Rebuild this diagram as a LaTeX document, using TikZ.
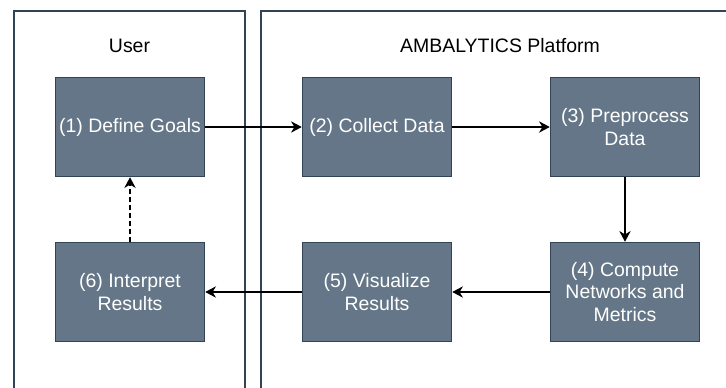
\documentclass[tikz,border=0pt]{standalone}
\usepackage{fontspec}
\setmainfont{Liberation Sans}
\usetikzlibrary{arrows.meta}
\definecolor{boxfill}{HTML}{647687}
\definecolor{boxline}{HTML}{314354}
\tikzset{
  stepbox/.style={draw=boxline, fill=boxfill, line width=0.8pt, minimum width=112.1pt, minimum height=74.6pt, inner sep=0pt, align=center, text=white, font=\fontsize{14.6}{16.8}\selectfont},
  lane/.style={draw=boxline, line width=1.1pt},
  lanelabel/.style={inner sep=0pt, text=black, font=\fontsize{14.6}{16.8}\selectfont},
  flow/.style={draw=black, line width=1.1pt, -{Stealth[length=8pt, width=8.5pt, inset=2.5pt]}},
}
\begin{document}
\begin{tikzpicture}[x=0.75pt, y=-0.75pt]
\clip (0,0) rectangle (726,387);
\useasboundingbox (0,0) rectangle (726,387);
\fill[white] (0,0) rectangle (726,387);
\draw[lane] (14,11) rectangle (245,420);
\draw[lane] (261,11) rectangle (739,420);
\node[lanelabel] (userlbl) at (129.5,46) {User};
\node[lanelabel] (platlbl) at (500,46) {AMBALYTICS Platform};
\node[stepbox] (s1) at (130,127) {(1) Define Goals};
\node[stepbox] (s2) at (377,127) {(2) Collect Data};
\node[stepbox] (s3) at (625,127) {(3) Preprocess\\Data};
\node[stepbox] (s4) at (625,292) {(4) Compute\\Networks and\\Metrics};
\node[stepbox] (s5) at (377,292) {(5) Visualize\\Results};
\node[stepbox] (s6) at (130,292) {(6) Interpret\\Results};
\draw[flow] (s1) -- (s2);
\draw[flow] (s2) -- (s3);
\draw[flow] (s3) -- (s4);
\draw[flow] (s4) -- (s5);
\draw[flow] (s5) -- (s6);
\draw[flow, dash pattern=on 3.4pt off 2.6pt] (s6) -- (s1);
\end{tikzpicture}
\end{document}
